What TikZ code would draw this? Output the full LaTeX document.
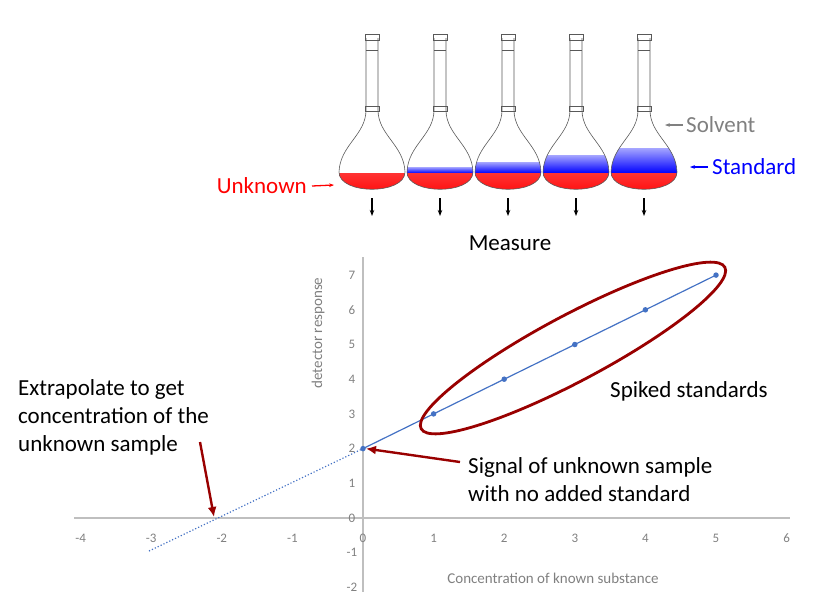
\documentclass[tikz,border=0pt]{standalone}
\usepackage{fontspec}
\setmainfont{Carlito}
\definecolor{lineblue}{RGB}{68,114,196}
\begin{document}
\begin{tikzpicture}[x=1pt,y=-1pt,
  lbl/.style={font=\fontsize{23}{27}\selectfont,inner sep=0pt},
  tick/.style={font=\fontsize{13}{14}\selectfont,text=gray,inner sep=1pt},
  ann/.style={draw=red!60!black,line width=2.4pt,-{Latex[length=10pt,width=9pt]}},
  pt/.style={circle,fill=lineblue,inner sep=0pt,minimum size=5.5pt}]
\usetikzlibrary{arrows.meta}
\useasboundingbox (0,0) rectangle (821,605);
% flasks
\foreach \cx/\lev [count=\i] in {372/173,440/167,508/162,576/155,644/148}{
  \begin{scope}
  \clip (\cx-6,110) .. controls (\cx-6,135) and (\cx-32,145) .. (\cx-33,172)
     .. controls (\cx-33,195) and (\cx+33,195) .. (\cx+33,172)
     .. controls (\cx+32,145) and (\cx+6,135) .. (\cx+6,110) -- cycle;
  \shade[top color=blue!35,bottom color=blue] (\cx-40,\lev) rectangle (\cx+40,173);
  \shade[top color=red!80,bottom color=red] (\cx-40,173) rectangle (\cx+40,200);
  \end{scope}
  \draw[gray!70!black,line width=0.6pt] (\cx-6,38) -- (\cx-6,110) .. controls (\cx-6,135) and (\cx-32,145) .. (\cx-33,172)
     .. controls (\cx-33,195) and (\cx+33,195) .. (\cx+33,172)
     .. controls (\cx+32,145) and (\cx+6,135) .. (\cx+6,110) -- (\cx+6,38);
  \draw[gray!70!black,line width=0.6pt] (\cx-7,34) rectangle (\cx+7,40);
  \draw[gray!70!black,line width=0.6pt] (\cx-6,50) -- (\cx+6,50);
  \draw[gray!70!black,line width=0.6pt] (\cx-7,106) rectangle (\cx+7,111);
  \coordinate (fb\i) at (\cx,198);
  \coordinate (fe\i) at (\cx,216);
  \draw[-{Stealth[length=6pt]},line width=1.3pt] (fb\i) -- (fe\i);
}
\node[lbl,text=gray,anchor=west] (solv) at (686,125) {Solvent};
\node[lbl,text=blue,anchor=west] (std) at (712,167) {Standard};
\node[lbl,text=red,anchor=east] (unk) at (307,186) {Unknown};
\coordinate (solvA) at (665,125); \coordinate (stdA) at (690,167); \coordinate (unkA) at (334,185);
\draw[gray,-{Stealth[length=5pt]},line width=1.3pt] (solv.west) ++(-3,0) -- (solvA);
\draw[blue,-{Stealth[length=5pt]},line width=1.3pt] (std.west) ++(-4,0) -- (stdA);
\draw[red,-{Stealth[length=5pt]},line width=1.3pt] (unk.east) ++(5,0) -- (unkA);
\node[lbl] (meas) at (510,243) {Measure};
% axes
\coordinate (xa) at (74,518); \coordinate (xb) at (790,518);
\coordinate (ya) at (363,257); \coordinate (yb) at (363,592);
\draw[gray!50,line width=1.2pt] (xa) -- (xb);
\draw[gray!50,line width=1.2pt] (ya) -- (yb);
\foreach \v in {-4,-3,-2,-1,0,1,2,3,4,5,6}
  \node[tick] at (363+70.6*\v,538) {\v};
\foreach \v in {-2,-1,0,1,2,3,4,5,6,7}
  \node[tick] at (352,518-34.7*\v) {\v};
\node[tick,rotate=90,font=\fontsize{15}{16}\selectfont] (ylab) at (318,333) {detector response};
\node[tick,font=\fontsize{15}{16}\selectfont] (xlab) at (553,578) {Concentration of known substance};
% data
\foreach \v in {0,...,5} \node[pt] (p\v) at (363+70.6*\v,518-34.7*\v-69.4) {};
\coordinate (q) at (149,551);
\draw[lineblue,line width=1.2pt] (p0.center) -- (p5.center);
\draw[lineblue,line width=1.2pt,dotted] (q) -- (p0.center);
\draw[red!60!black,line width=2.8pt,rotate around={28:(573,348)}] (573,348) ellipse [x radius=172,y radius=33];
\node[lbl,anchor=west] (spk) at (610,391) {Spiked standards};
\node[lbl,anchor=north west,align=left,font=\fontsize{23}{28}\selectfont] (sig) at (468,457) {Signal of unknown sample\\with no added standard};
\node[lbl,anchor=north west,align=left,font=\fontsize{23}{28}\selectfont] (ext) at (18,379) {Extrapolate to get\\concentration of the\\unknown sample};
\coordinate (x0) at (214,517);
\draw[ann] (460,462) -- (p0.east);
\draw[ann] (200,442) -- (x0);
\end{tikzpicture}
\end{document}
